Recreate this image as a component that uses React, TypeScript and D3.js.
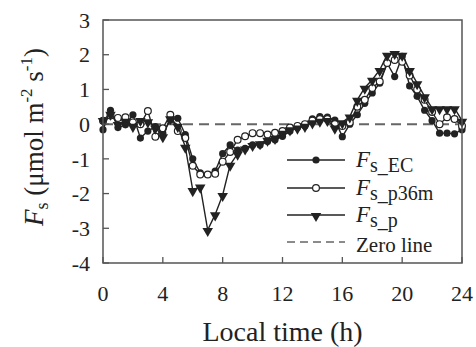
import React from "react";
import * as d3 from "d3";

const hours: number[] = Array.from({ length: 49 }, (_, i) => i * 0.5);

const fsEC: number[] = [
  -0.16, 0.4, -0.1, -0.02, 0.27, -0.4, -0.2, -0.07, -0.26, 0.12, 0.17, -0.3,
  -1.0, -1.4, -1.45, -1.35, -0.85, -0.6, -0.75, -0.7, -0.6, -0.6, -0.5, -0.45,
  -0.35, -0.2, -0.1, -0.05, 0.15, 0.22, 0.2, 0.12, -0.36, 0.0, 0.27, 0.6,
  0.9, 1.18, 1.75, 1.37, 1.95, 1.1, 0.8, 0.4, 0.1, -0.26, -0.26, -0.28, -0.16,
];

const fsP36m: number[] = [
  0.1, 0.25, 0.18, 0.2, 0.05, 0.0, 0.38, -0.36, -0.12, 0.27, -0.2, -0.4,
  -1.2, -1.45, -1.45, -1.43, -1.08, -0.8, -0.45, -0.35, -0.26, -0.26, -0.3, -0.25,
  -0.2, -0.1, -0.05, 0.0, 0.1, 0.15, 0.15, 0.0, -0.05, 0.05, 0.5, 0.7,
  1.04, 1.23, 1.76, 1.85, 1.8, 1.4, 1.0, 0.7, 0.35, 0.0, 0.2, 0.15, -0.05,
];

const fsP: number[] = [
  0.12, 0.3, 0.0, 0.1, -0.05, 0.12, 0.08, -0.1, -0.35, 0.17, -0.05, -0.65,
  -1.9, -1.8, -3.05, -2.6, -2.04, -1.17, -0.85, -0.7, -0.6, -0.55, -0.45, -0.4,
  -0.25, -0.15, -0.1, -0.05, 0.05, 0.1, 0.12, -0.1, 0.05, 0.22, 0.7, 1.05,
  1.28, 1.56, 2.0, 2.05, 2.0, 1.56, 1.18, 0.8, 0.46, 0.46, 0.46, 0.46, 0.1,
];

const xTicks: number[] = [0, 4, 8, 12, 16, 20, 24];
const yTicks: number[] = [-4, -3, -2, -1, 0, 1, 2, 3];
const legendLabels: string[] = ["_EC", "_p36m", "_p"];

const FONT = "Liberation Serif, Times New Roman, Times, DejaVu Serif, serif";
const INK = "#222";
const FRAME = "#555";

export default function App() {
  const W = 476;
  const H = 347;
  const left = 103, right = 462, top = 20, bottom = 263;
  const x = d3.scaleLinear().domain([0, 24]).range([left, right]);
  const y = d3.scaleLinear().domain([-4, 3]).range([bottom, top]);

  const line = d3
    .line<number>()
    .x((_, i) => x(hours[i]))
    .y((d) => y(d));

  const tri = d3.symbol().type(d3.symbolTriangle).size(48)() as string;

  const marker = (kind: number, cx: number, cy: number, key: string) => {
    if (kind === 0)
      return <circle key={key} cx={cx} cy={cy} r={3.6} fill={INK} />;
    if (kind === 1)
      return (
        <circle key={key} cx={cx} cy={cy} r={3.4} fill="#fff" stroke={INK} strokeWidth={1.2} />
      );
    return (
      <path key={key} d={tri} transform={`translate(${cx},${cy + 1}) rotate(180)`} fill={INK} />
    );
  };

  const series = [fsEC, fsP36m, fsP];
  const legendY = [160, 188, 215, 242];
  const ts = { fontFamily: FONT, fill: INK } as React.CSSProperties;

  return (
    <svg width={W} height={H} style={{ position: "absolute", left: 0, top: 0, background: "#fff" }}>
      {/* zero line */}
      <line x1={left} x2={right} y1={y(0)} y2={y(0)} stroke="#666" strokeWidth={2} strokeDasharray="10,6" />

      {/* series */}
      {series.map((s, k) => (
        <g key={k}>
          <path d={line(s) as string} fill="none" stroke={INK} strokeWidth={1.4} />
          {s.map((v, i) => marker(k, x(hours[i]), y(v), `${k}-${i}`))}
        </g>
      ))}

      {/* frame */}
      <rect x={left} y={top} width={right - left} height={bottom - top} fill="none" stroke={FRAME} strokeWidth={1.5} />

      {/* y ticks */}
      {yTicks.map((t) => (
        <g key={`y${t}`}>
          <line x1={left} x2={left + 6} y1={y(t)} y2={y(t)} stroke={FRAME} strokeWidth={1.3} />
          <text x={left - 13} y={y(t)} dy="0.35em" textAnchor="end" style={{ ...ts, fontSize: 22 }}>
            {t}
          </text>
        </g>
      ))}

      {/* x ticks */}
      {xTicks.map((t) => (
        <g key={`x${t}`}>
          <line x1={x(t)} x2={x(t)} y1={bottom} y2={bottom - 6} stroke={FRAME} strokeWidth={1.3} />
          <text x={x(t)} y={301} textAnchor="middle" style={{ ...ts, fontSize: 22 }}>
            {t}
          </text>
        </g>
      ))}

      {/* x title */}
      <text x={(left + right) / 2} y={341} textAnchor="middle" style={{ ...ts, fontSize: 28 }}>
        Local time (h)
      </text>

      {/* y title */}
      <text
        transform={`translate(43,137) rotate(-90)`}
        textAnchor="middle"
        style={{ ...ts, fontSize: 27 }}
      >
        <tspan fontStyle="italic">F</tspan>
        <tspan fontSize={18} dy={5}>s</tspan>
        <tspan dy={-5}> (μmol m</tspan>
        <tspan fontSize={17} dy={-11}>-2</tspan>
        <tspan dy={11}> s</tspan>
        <tspan fontSize={17} dy={-11}>-1</tspan>
        <tspan dy={11}>)</tspan>
      </text>

      {/* legend */}
      {legendLabels.map((lab, k) => (
        <g key={`lg${k}`}>
          <line x1={287} x2={345} y1={legendY[k]} y2={legendY[k]} stroke={INK} strokeWidth={1.6} />
          {marker(k, 316, legendY[k], `lm${k}`)}
          <text x={356} y={legendY[k] + 7} style={{ ...ts, fontSize: 23 }}>
            <tspan fontStyle="italic">F</tspan>
            <tspan dy={5} fontSize={20}>{"s" + lab}</tspan>
          </text>
        </g>
      ))}
      <line x1={287} x2={345} y1={legendY[3]} y2={legendY[3]} stroke="#666" strokeWidth={1.6} strokeDasharray="8,5" />
      <text x={356} y={legendY[3] + 10} style={{ ...ts, fontSize: 21 }}>
        Zero line
      </text>
    </svg>
  );
}
